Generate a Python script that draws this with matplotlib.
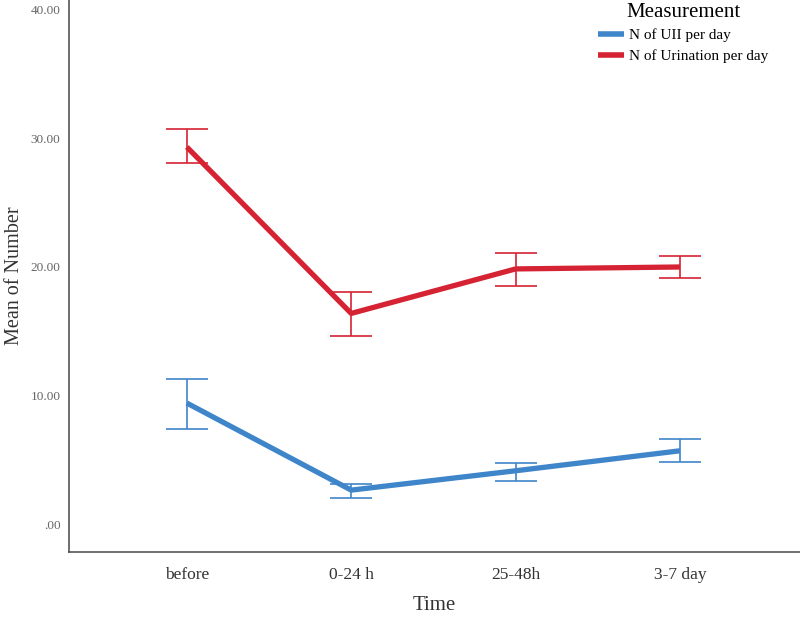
import matplotlib
matplotlib.use("Agg")
import matplotlib.pyplot as plt
import numpy as np

categories = ["before", "0-24 h", "25-48h", "3-7 day"]
uii_mean = [9.45, 2.7, 4.2, 5.75]
uii_low = [7.45, 2.1, 3.4, 4.9]
uii_high = [11.3, 3.2, 4.8, 6.65]
uri_mean = [29.3, 16.4, 19.85, 20.0]
uri_low = [28.05, 14.65, 18.55, 19.15]
uri_high = [30.7, 18.05, 21.1, 20.85]
series_names = ["N of UII per day", "N of Urination per day"]
yticks = [0, 10, 20, 30, 40]
ytick_labels = [".00", "10.00", "20.00", "30.00", "40.00"]

plt.rcParams['font.family'] = ['Liberation Serif', 'DejaVu Serif']

fig = plt.figure(figsize=(8, 6.17), dpi=100)
ax = fig.add_axes([0.086, 0.1053, 0.914, 0.8947])

x = np.arange(len(categories))
blue = "#3F85C9"
red = "#D52333"
handles = []
for mean, lo, hi, col, name in [(uii_mean, uii_low, uii_high, blue, series_names[0]),
                                (uri_mean, uri_low, uri_high, red, series_names[1])]:
    mean = np.array(mean); lo = np.array(lo); hi = np.array(hi)
    ax.errorbar(x, mean, yerr=[mean - lo, hi - mean], fmt='none', ecolor=col,
                elinewidth=1.2, capsize=15, capthick=1.2)
    ln, = ax.plot(x, mean, color=col, lw=3.8, solid_capstyle='butt', label=name)
    handles.append(ln)

ax.set_xlim(-0.718, 3.73)
ax.set_ylim(-2.1, 40.7)
ax.set_yticks(yticks)
ax.set_yticklabels(ytick_labels, color="#666666", fontsize=9.5)
ax.set_xticks(x)
ax.set_xticklabels(categories, fontsize=12.5, color="#333333")
ax.tick_params(length=0)
ax.tick_params(axis='y', pad=6)
ax.tick_params(axis='x', pad=11)
for s in ["top", "right"]:
    ax.spines[s].set_visible(False)
for s in ["left", "bottom"]:
    ax.spines[s].set_color("#555555")
    ax.spines[s].set_linewidth(1.2)

ax.set_ylabel("Mean of Number", fontsize=14.5, color="#333333", labelpad=5)
ax.set_xlabel("Time", fontsize=15, color="#333333", labelpad=9)

leg = fig.legend(handles=handles, labels=series_names, title="Measurement",
                 loc="upper right", bbox_to_anchor=(0.962, 0.998),
                 frameon=False, fontsize=11, title_fontsize=15, handlelength=1.7,
                 handletextpad=0.3, labelspacing=0.45, borderaxespad=0, borderpad=0.1)
for h in leg.get_lines():
    h.set_linewidth(4)

fig.savefig("out.png", dpi=100)
